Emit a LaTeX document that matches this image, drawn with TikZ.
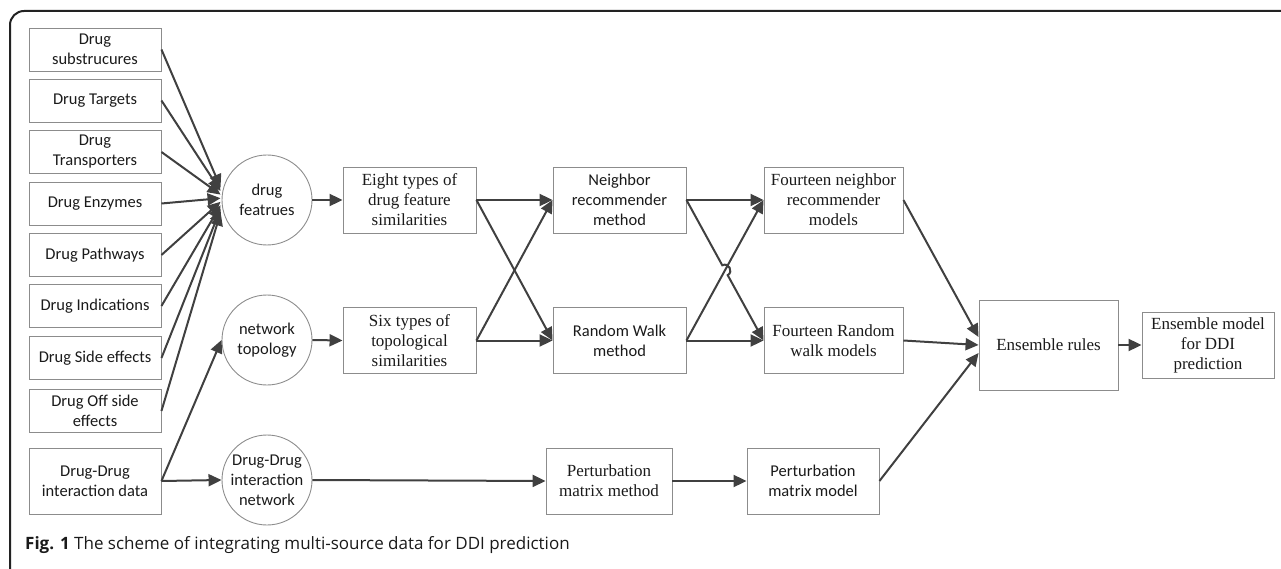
\documentclass[tikz,border=0pt]{standalone}
\usepackage{fontspec}
\setmainfont{Liberation Serif}
\newfontfamily\calfont{Carlito}
\newfontfamily\capfont{Open Sans}
\usetikzlibrary{arrows.meta,calc}
\definecolor{bordergray}{HTML}{8C8C8C}
\definecolor{arrowgray}{HTML}{404040}
\definecolor{txtc}{HTML}{1A1A1A}
\definecolor{framec}{HTML}{222222}
\begin{document}
\begin{tikzpicture}[x=1pt,y=-1pt,
  box/.style={draw=bordergray, line width=0.9pt, align=center, inner sep=0pt, text=txtc},
  sbox/.style={box, font=\fontsize{16.5}{20}\selectfont\calfont},
  rbox/.style={box, font=\fontsize{17}{20}\selectfont},
  circ/.style={draw=bordergray, line width=0.9pt, circle, minimum size=90pt, inner sep=0pt, align=center, text=txtc, font=\fontsize{16.5}{20}\selectfont\calfont},
  arr/.style={draw=arrowgray, line width=2pt, -{Triangle[length=13pt,width=12pt]}},
  lw/.style={minimum width=132pt, minimum height=43pt}]
\useasboundingbox (0,0) rectangle (1281,569);
% frame
\draw[framec, line width=2pt, rounded corners=14pt] (10,569) -- (10,11) -- (1281,11);

% left boxes
\node[sbox, lw] (b1) at (95,49.5) {Drug\\substrucures};
\node[sbox, lw] (b2) at (95,100.5) {Drug Targets};
\node[sbox, lw] (b3) at (95,152) {Drug\\Transporters};
\node[sbox, lw] (b4) at (95,203.5) {Drug Enzymes};
\node[sbox, lw] (b5) at (95,255) {Drug Pathways};
\node[sbox, lw] (b6) at (95,306) {Drug Indications};
\node[sbox, lw] (b7) at (95,358) {Drug Side effects};
\node[sbox, lw] (b8) at (95,411) {Drug Off side\\effects};
\node[sbox, minimum width=132pt, minimum height=66pt] (b9) at (95,481) {Drug-Drug\\interaction data};

% circles
\node[circ] (df) at (267,200) {drug\\featrues};
\node[circ] (nt) at (267,340) {network\\topology};
\node[circ] (dn) at (267,480) {Drug-Drug\\interaction\\network};

% similarity boxes
\node[rbox, minimum width=133pt, minimum height=66pt] (eight) at (409.5,200) {Eight types of\\drug feature\\similarities};
\node[rbox, minimum width=133pt, minimum height=66pt] (six) at (409.5,340.5) {Six types of\\topological\\similarities};

% methods
\node[sbox, minimum width=133pt, minimum height=66pt] (nm) at (619.5,200) {Neighbor\\recommender\\method};
\node[sbox, minimum width=133pt, minimum height=66pt] (rm) at (619.5,340.5) {Random Walk\\method};
\node[rbox, minimum width=126pt, minimum height=66pt] (pm) at (609,481) {Perturbation\\matrix method};

% models
\node[rbox, minimum width=139pt, minimum height=66pt] (fn) at (833.5,200) {Fourteen neighbor\\recommender\\models};
\node[rbox, minimum width=139pt, minimum height=66pt] (fr) at (833.5,340.5) {Fourteen Random\\walk models};
\node[sbox, minimum width=132pt, minimum height=66pt] (pmod) at (813,481) {Perturbation\\matrix model};

% ensemble
\node[rbox, minimum width=139pt, minimum height=90pt] (er) at (1048.5,345) {Ensemble rules};
\node[rbox, minimum width=132pt, minimum height=66pt] (em) at (1208,345) {Ensemble model\\for DDI\\prediction};

% caption
\node[anchor=west, inner sep=0pt, text=txtc, font=\fontsize{17}{20}\selectfont\capfont] (cap) at (25,545) {\textbf{Fig. 1} The scheme of integrating multi-source data for DDI prediction};

% fan-in targets
\foreach \i in {1,...,8} {
  \coordinate (f\i) at ($(df.west)+(-1,{(\i-4.5)*3.6})$);
  \draw[arr] (b\i.east) -- (f\i);
}
\draw[arr] (b9.east) -- (nt.west);
\draw[arr] (b9.east) -- (dn.west);

\draw[arr] (df.east) -- (eight.west);
\draw[arr] (nt.east) -- (six.west);
\draw[arr] (dn.east) -- (pm.west);

\draw[arr] (eight.east) -- (nm.west);
\draw[arr] (eight.east) -- (rm.west);
\draw[arr] (six.east) -- (nm.west);
\draw[arr] (six.east) -- (rm.west);

\draw[arr] (nm.east) -- (fn.west);
\draw[arr] (rm.east) -- (fn.west);
\draw[arr] (rm.east) -- (fr.west);
\draw[arr] (nm.east) -- ($(nm.east)!0.465!(fr.west)$) to[out=29,in=29,looseness=1.6] ($(nm.east)!0.535!(fr.west)$) -- (fr.west);

\draw[arr] (pm.east) -- (pmod.west);

\coordinate (e1) at ($(er.west)+(0,-8)$);
\coordinate (e3) at ($(er.west)+(0,8)$);
\draw[arr] (fn.east) -- (e1);
\draw[arr] (fr.east) -- (er.west);
\draw[arr] (pmod.east) -- (e3);

\draw[arr] (er.east) -- (em.west);
\end{tikzpicture}
\end{document}
